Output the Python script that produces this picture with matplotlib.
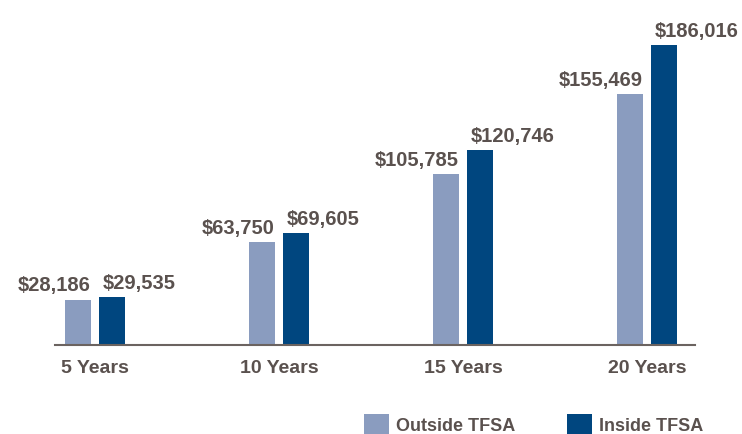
import matplotlib.pyplot as plt
import numpy as np

periods = ["5 Years", "10 Years", "15 Years", "20 Years"]
outside_tfsa = [28186, 63750, 105785, 155469]
inside_tfsa = [29535, 69605, 120746, 186016]

outside_color = "#8a9cbf"
inside_color = "#00467f"
text_color = "#5a514e"

plt.rcParams['font.family'] = ['Liberation Sans', 'DejaVu Sans']

fig = plt.figure(figsize=(7.42, 4.34), dpi=100)
ax = fig.add_axes([55 / 742, 89 / 434, 640 / 742, 345 / 434])

x = np.arange(len(periods))
w = 0.141
off = 0.092
ax.bar(x - off, outside_tfsa, w, color=outside_color, label="Outside TFSA")
ax.bar(x + off, inside_tfsa, w, color=inside_color, label="Inside TFSA")

for xi, v in zip(x, outside_tfsa):
    ax.annotate(f"${v:,}", (xi - off + w / 2, v), xytext=(0, 3), textcoords="offset points",
                ha="right", va="bottom", fontsize=14.5, fontweight="bold", color=text_color)
for xi, v in zip(x, inside_tfsa):
    ax.annotate(f"${v:,}", (xi + off - w / 2, v), xytext=(2.5, 3), textcoords="offset points",
                ha="left", va="bottom", fontsize=14.5, fontweight="bold", color=text_color)

ax.set_xlim(-0.217, 3.26)
ax.set_ylim(0, 214000)
ax.set_xticks(x)
ax.set_xticklabels(periods, fontsize=14, fontweight="bold", color=text_color)
ax.tick_params(axis="x", length=0, pad=11)
ax.set_yticks([])
for s in ["top", "right", "left"]:
    ax.spines[s].set_visible(False)
ax.spines["bottom"].set_color("#6b6360")
ax.spines["bottom"].set_linewidth(1.5)

leg = fig.legend(loc="lower left", bbox_to_anchor=(348 / 742, -17 / 434), ncol=2, frameon=False,
                 handlelength=1.35, handleheight=1.35, columnspacing=2.9, handletextpad=0.4,
                 prop={"size": 13, "weight": "bold"})
for t in leg.get_texts():
    t.set_color(text_color)

fig.savefig("out.png", dpi=100)
